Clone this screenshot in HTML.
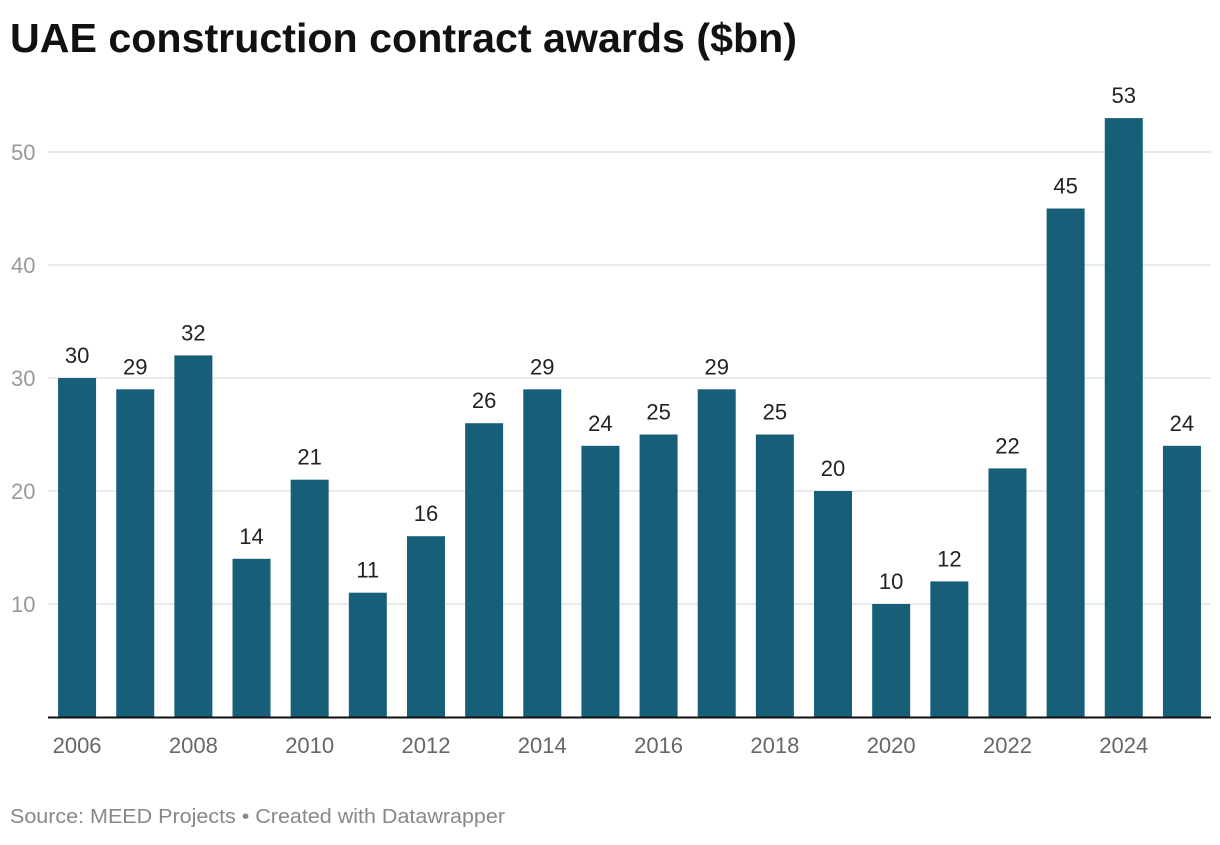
<!DOCTYPE html>
<html><head><meta charset="utf-8"><style>
body{margin:0;background:#fff;width:1220px;height:840px;overflow:hidden;font-family:"Liberation Sans",Arial,sans-serif}
</style></head><body>
<svg id="c" width="1220" height="840" xmlns="http://www.w3.org/2000/svg">
<text x="10" y="52" font-size="41" font-weight="bold" fill="#111" textLength="787" lengthAdjust="spacingAndGlyphs">UAE construction contract awards ($bn)</text>
<text x="10" y="823" font-size="20" fill="#888" textLength="495" lengthAdjust="spacingAndGlyphs">Source: MEED Projects • Created with Datawrapper</text>
<g id="g"></g>
</svg>
<script>
const years=[2006,2007,2008,2009,2010,2011,2012,2013,2014,2015,2016,2017,2018,2019,2020,2021,2022,2023,2024,2025];
const values=[30,29,32,14,21,11,16,26,29,24,25,29,25,20,10,12,22,45,53,24];
const yTicks=[10,20,30,40,50];
const NS="http://www.w3.org/2000/svg";
const g=document.getElementById('g');
const x0=48,x1=1211,y0=717,pxPer=11.3;
const step=(x1-x0)/years.length,bw=38;
const y=v=>y0-v*pxPer;
const bx=i=>x0+i*step+(step-bw)/2;
function mk(t,a,txt){const e=document.createElementNS(NS,t);for(const k in a)e.setAttribute(k,a[k]);if(txt!==undefined)e.textContent=txt;g.appendChild(e);return e;}
yTicks.forEach(t=>{
const l=mk('line',{x1:x0,x2:x1,y1:y(t),y2:y(t),stroke:'#e3e3e3','stroke-width':1.5});


const tx=mk('text',{x:11,y:y(t)+8,'font-size':22,fill:'#999'},t);


});
values.forEach((v,i)=>{
const r=mk('rect',{x:bx(i),y:y(v),width:bw,height:v*pxPer,fill:'#175f79'});


const t=mk('text',{x:bx(i)+bw/2,y:y(v)-15,'font-size':22,fill:'#222','text-anchor':'middle'},v);


if(years[i]%2===0){
const yl=mk('text',{x:bx(i)+bw/2,y:753,'font-size':22,fill:'#666','text-anchor':'middle'},years[i]);


}
});
const base=mk('line',{x1:x0,x2:x1,y1:y0+0.5,y2:y0+0.5,stroke:'#111','stroke-width':2});


</script>
</body></html>
